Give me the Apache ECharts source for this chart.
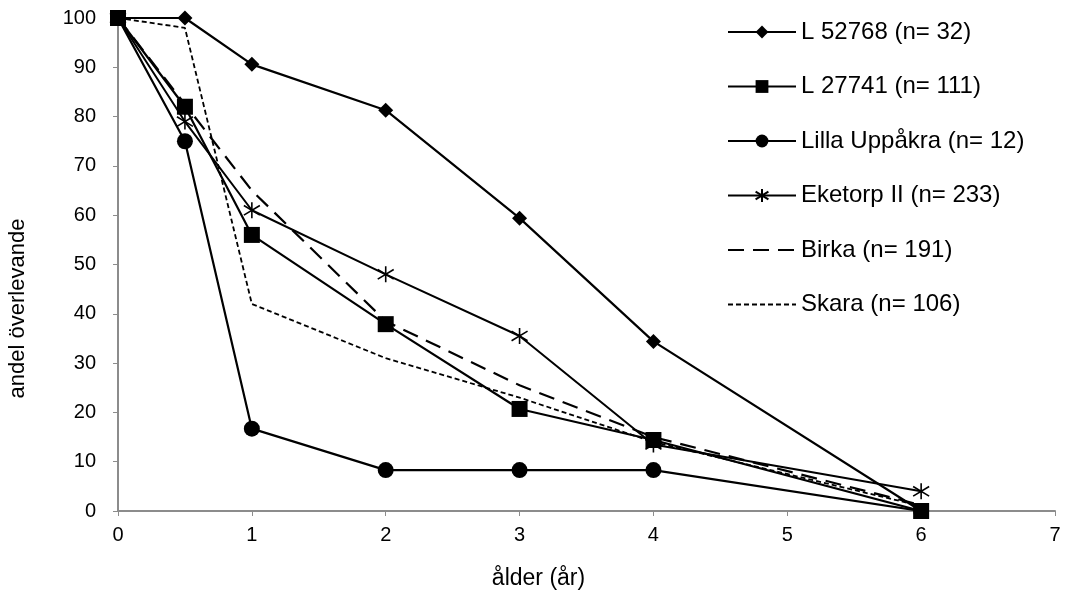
<!DOCTYPE html>
<html>
<head>
<meta charset="utf-8">
<script src="https://cdn.jsdelivr.net/npm/echarts@6/dist/echarts.min.js"></script>
<style>html,body{margin:0;padding:0;background:#fff}#c{width:1073px;height:600px}</style>
</head>
<body>
<div id="c"></div>
<script>
// Data
var ages = [0, 0.5, 1, 2, 3, 4, 6];
var seriesNames = ['L 52768 (n= 32)', 'L 27741 (n= 111)', 'Lilla Uppåkra (n= 12)', 'Eketorp II (n= 233)', 'Birka (n= 191)', 'Skara (n= 106)'];
var l52768 = [100, 100, 90.6, 81.3, 59.4, 34.4, 0];
var l27741 = [100, 82.0, 56.0, 37.9, 20.7, 14.4, 0];
var lillaUppakra = [100, 75.0, 16.7, 8.3, 8.3, 8.3, 0];
var eketorp = [100, 79.0, 61.0, 48.0, 35.5, 13.5, 4.0];
var birka = [100, 82.5, 65.0, 38.5, 25.5, 15.0, 1.2];
var skara = [100, 98.0, 42.0, 31.0, 23.0, 14.0, 1.0];
var xTicks = [0, 1, 2, 3, 4, 5, 6, 7];
var yTicks = [0, 10, 20, 30, 40, 50, 60, 70, 80, 90, 100];

function pairs(vals){ return ages.map(function(a,i){ return [a, vals[i]]; }); }

var asterisk = 'path://M10,0L10,20M2,4L18,16M2,16L18,4';

function mk(name, vals, symbol, size, lineType, lineWidth, kind){
  var s = {
    name: name, type: 'line', data: pairs(vals),
    symbol: symbol, symbolSize: size,
    lineStyle: {color: '#000', width: lineWidth, type: lineType},
    itemStyle: {color: '#000'},
    emphasis: {disabled: true},
    animation: false
  };
  if (kind === 'star') {
    s.itemStyle = {color: 'rgba(0,0,0,0)', borderColor: '#000', borderWidth: 1.6};
  } else if (kind === 'plain') {
    s.showSymbol = false;
    s.itemStyle = {color: 'rgba(0,0,0,0)', opacity: 0};
  }
  return s;
}

var chart = echarts.init(document.getElementById('c'), null, {renderer: 'canvas'});
var font = 'Liberation Sans, Arial, sans-serif';
chart.setOption({
  backgroundColor: '#fff',
  animation: false,
  grid: {left: 118, right: 18, top: 18, bottom: 89, containLabel: false, outerBoundsMode: 'none'},
  legend: {
    orient: 'vertical', left: 722, top: 15,
    itemWidth: 68, itemHeight: 16, itemGap: 30.5,
    textStyle: {fontFamily: font, fontSize: 24, color: '#000', lineHeight: 24},
    data: seriesNames
  },
  xAxis: {
    type: 'value', min: 0, max: 7, interval: 1,
    name: 'ålder (år)', nameLocation: 'middle', nameGap: 56,
    nameTextStyle: {fontFamily: font, fontSize: 23, color: '#000', padding: [0, 96, 0, 0]},
    axisLine: {lineStyle: {color: '#8c8c8c', width: 2}},
    axisTick: {show: true, length: 5, lineStyle: {color: '#8c8c8c'}},
    axisLabel: {fontFamily: font, fontSize: 20, color: '#000', margin: 14,
      formatter: function(v){ return xTicks.indexOf(v) >= 0 ? String(v) : ''; }},
    splitLine: {show: false}
  },
  yAxis: {
    type: 'value', min: 0, max: 100, interval: 10,
    name: 'andel överlevande', nameLocation: 'middle', nameGap: 89, nameRotate: 90,
    nameTextStyle: {fontFamily: font, fontSize: 22, color: '#000', padding: [0, 88, 0, 0]},
    axisLine: {show: true, lineStyle: {color: '#8c8c8c', width: 2}},
    axisTick: {show: true, length: 5, lineStyle: {color: '#8c8c8c'}},
    axisLabel: {fontFamily: font, fontSize: 20, color: '#000', margin: 22,
      formatter: function(v){ return yTicks.indexOf(v) >= 0 ? String(v) : ''; }},
    splitLine: {show: false}
  },
  series: [
    mk(seriesNames[0], l52768, 'diamond', 15, 'solid', 2.2),
    mk(seriesNames[1], l27741, 'rect', 16, 'solid', 2.2),
    mk(seriesNames[2], lillaUppakra, 'circle', 16, 'solid', 2.2),
    mk(seriesNames[3], eketorp, asterisk, 16, 'solid', 2, 'star'),
    mk(seriesNames[4], birka, 'none', 1, [16, 9], 2.2, 'plain'),
    mk(seriesNames[5], skara, 'none', 1, [5, 3], 1.8, 'plain')
  ]
});
</script>
</body>
</html>
